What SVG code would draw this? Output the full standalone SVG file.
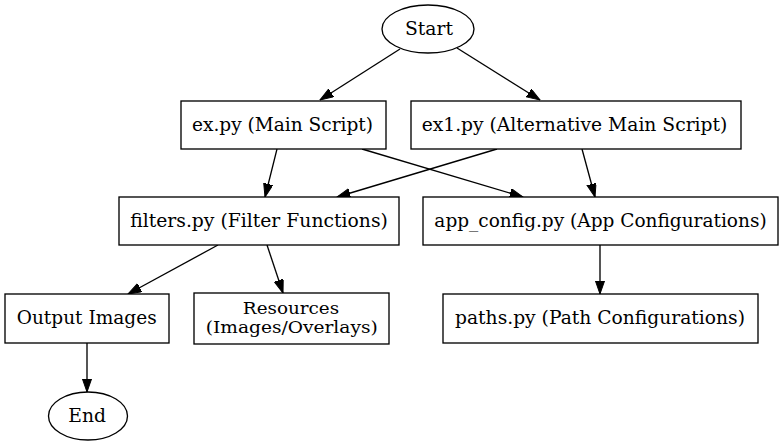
<svg xmlns="http://www.w3.org/2000/svg" width="783" height="445" viewBox="0 0 783 445">
<style>
.n{fill:#fff;stroke:#000;stroke-width:1.33}
.t{font-family:"DejaVu Serif","Liberation Serif",serif;font-size:18.67px;text-anchor:middle;fill:#000}
.s{font-size:16px}
.e{fill:none;stroke:#000;stroke-width:1.33;marker-end:url(#ah)}
</style>
<defs>
<marker id="ah" markerUnits="userSpaceOnUse" markerWidth="14" markerHeight="10" refX="13.33" refY="4.67" orient="auto">
<path d="M0,0 L13.33,4.67 L0,9.33 z" fill="#000" stroke="#000" stroke-width="1"/>
</marker>
</defs>
<rect width="783" height="445" fill="#fff"/>
<g id="connectors">
<line class="e" x1="400" y1="49" x2="320" y2="100"/>
<line class="e" x1="457" y1="48" x2="540" y2="100"/>
<line class="e" x1="277" y1="149" x2="265" y2="197"/>
<line class="e" x1="497" y1="149" x2="337" y2="197"/>
<line class="e" x1="362" y1="149" x2="523" y2="197"/>
<line class="e" x1="582" y1="149" x2="595" y2="197"/>
<line class="e" x1="218" y1="245" x2="128" y2="294"/>
<line class="e" x1="267" y1="245" x2="283" y2="293"/>
<line class="e" x1="600" y1="245" x2="600" y2="294"/>
<line class="e" x1="87" y1="343" x2="87" y2="392"/>
</g>
<g id="start">
<ellipse class="n" cx="428" cy="29" rx="46" ry="24"/>
<text class="t" x="429" y="35" textLength="48" lengthAdjust="spacingAndGlyphs">Start</text>
</g>
<g id="ex">
<rect class="n" x="181" y="101" width="205" height="48"/>
<text class="t" x="282.5" y="131" textLength="181" lengthAdjust="spacingAndGlyphs">ex.py (Main Script)</text>
</g>
<g id="ex1">
<rect class="n" x="411" y="101" width="330" height="48"/>
<text class="t" x="574.5" y="131" textLength="305.7" lengthAdjust="spacingAndGlyphs">ex1.py (Alternative Main Script)</text>
</g>
<g id="filters">
<rect class="n" x="119" y="197" width="280" height="48"/>
<text class="t" x="259" y="227" textLength="257.7" lengthAdjust="spacingAndGlyphs">filters.py (Filter Functions)</text>
</g>
<g id="app_config">
<rect class="n" x="423" y="197" width="355" height="48"/>
<text class="t" x="600.5" y="227" textLength="332.3" lengthAdjust="spacingAndGlyphs">app_config.py (App Configurations)</text>
</g>
<g id="output">
<rect class="n" x="5" y="294" width="164" height="49"/>
<text class="t" x="86.7" y="324" textLength="140" lengthAdjust="spacingAndGlyphs">Output Images</text>
</g>
<g id="resources">
<rect class="n" x="194" y="293" width="195" height="51"/>
<text class="t s" x="291" y="313.5" textLength="96.3" lengthAdjust="spacingAndGlyphs">Resources</text>
<text class="t s" x="291.7" y="332.5" textLength="172" lengthAdjust="spacingAndGlyphs">(Images/Overlays)</text>
</g>
<g id="paths">
<rect class="n" x="443" y="294" width="315" height="49"/>
<text class="t" x="600" y="324" textLength="290" lengthAdjust="spacingAndGlyphs">paths.py (Path Configurations)</text>
</g>
<g id="end">
<ellipse class="n" cx="88" cy="416" rx="39.5" ry="24"/>
<text class="t" x="87.2" y="422" textLength="37.7" lengthAdjust="spacingAndGlyphs">End</text>
</g>
</svg>
